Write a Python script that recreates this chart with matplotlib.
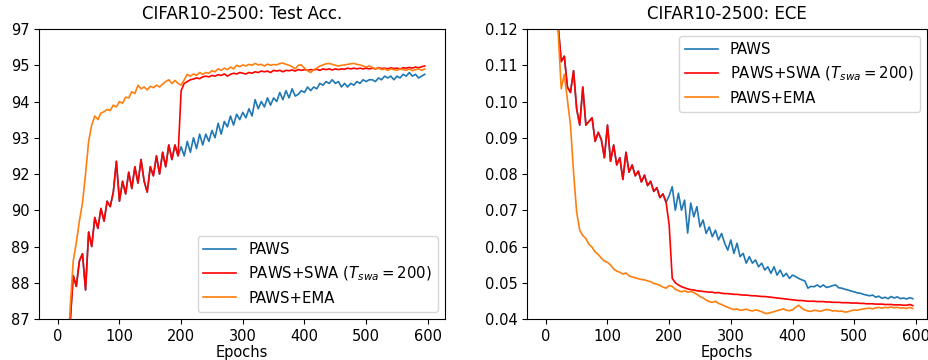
import matplotlib
matplotlib.use('Agg')
import matplotlib.pyplot as plt
import numpy as np

# --- data (every 5 epochs) ---
epochs = np.arange(0, 600, 5)

# Test accuracy (%)
acc_paws = [
    40, 70, 80, 85, 86.9, 88.2, 87.9, 88.6, 88.8, 87.8,
    89.4, 89.0, 89.8, 89.5, 90.1, 89.7, 90.5, 90.2, 91.0, 92.35,
    90.5, 91.6, 90.9, 92.05, 91.2, 92.2, 91.5, 92.4, 91.6, 91.0,
    92.2, 91.9, 92.5, 92.0, 92.6, 92.2, 92.8, 92.4, 92.8, 92.5,
    92.75, 92.5, 92.9, 92.6, 93.0, 92.7, 93.1, 92.8, 93.1, 92.9,
    93.2, 93.0, 93.4, 93.1, 93.45, 93.3, 93.6, 93.35, 93.65, 93.5,
    93.7, 93.55, 93.8, 93.6, 94.05, 93.8, 94.0, 93.85, 94.1, 93.9,
    94.1, 94.0, 94.25, 94.05, 94.3, 94.1, 94.35, 94.15, 94.2, 94.3,
    94.25, 94.4, 94.3, 94.4, 94.35, 94.5, 94.45, 94.55, 94.5, 94.6,
    94.5, 94.55, 94.4, 94.5, 94.4, 94.5, 94.45, 94.55, 94.5, 94.6,
    94.55, 94.6, 94.6, 94.55, 94.65, 94.6, 94.7, 94.65, 94.7, 94.6,
    94.7, 94.65, 94.75, 94.7, 94.8, 94.7, 94.75, 94.65, 94.7, 94.75,
]
acc_swa_after = [
    94.3, 94.5, 94.55, 94.6, 94.62, 94.65, 94.63, 94.68, 94.7, 94.68,
    94.72, 94.7, 94.74, 94.72, 94.76, 94.7, 94.75, 94.78, 94.76, 94.8,
    94.78, 94.76, 94.8, 94.78, 94.82, 94.8, 94.84, 94.82, 94.84, 94.8,
    94.86, 94.84, 94.86, 94.82, 94.86, 94.85, 94.87, 94.84, 94.88, 94.86,
    94.88, 94.86, 94.88, 94.87, 94.89, 94.86, 94.9, 94.88, 94.9, 94.87,
    94.9, 94.88, 94.9, 94.89, 94.92, 94.9, 94.92, 94.9, 94.92, 94.9,
    94.92, 94.9, 94.92, 94.9, 94.93, 94.91, 94.92, 94.9, 94.93, 94.91,
    94.92, 94.9, 94.93, 94.92, 94.94, 94.92, 94.95, 94.93, 94.96, 94.98,
]
acc_swa = acc_paws[:40] + acc_swa_after
acc_ema = [
    45, 72, 81, 85.5, 87.3, 88.6, 89.1, 89.7, 90.4, 92.0,
    92.9, 93.35, 93.6, 93.5, 93.68, 93.72, 93.78, 93.75, 93.9, 93.85,
    94.0, 93.95, 94.12, 94.1, 94.27, 94.22, 94.45, 94.35, 94.4, 94.32,
    94.42, 94.38, 94.45, 94.4, 94.48, 94.55, 94.6, 94.5, 94.58, 94.5,
    94.45, 94.6, 94.75, 94.7, 94.76, 94.72, 94.8, 94.75, 94.8, 94.78,
    94.85, 94.82, 94.9, 94.86, 94.92, 94.88, 94.95, 94.9, 95.0, 94.96,
    95.02, 94.98, 95.05, 95.0, 95.1, 95.02, 95.05, 94.98, 95.06, 95.0,
    95.04, 95.02, 95.1, 95.12, 95.05, 95.0, 94.96, 94.9, 95.0, 95.02,
    94.92, 94.85, 94.8, 94.88, 94.92, 94.98, 95.02, 95.08, 95.1, 95.05,
    95.0, 94.98, 95.0, 95.02, 95.05, 95.08, 95.1, 95.05, 95.02, 94.98,
    94.95, 94.98, 94.94, 94.9, 94.92, 94.88, 94.9, 94.86, 94.9, 94.88,
    94.86, 94.9, 94.88, 94.86, 94.9, 94.85, 94.88, 94.9, 94.86, 94.9,
]

# ECE
ece_paws = [
    0.20, 0.17, 0.15, 0.13, 0.121, 0.111, 0.1125, 0.104, 0.1025, 0.1085,
    0.098, 0.0935, 0.104, 0.0935, 0.0945, 0.0955, 0.089, 0.0915, 0.0895, 0.0845,
    0.0935, 0.0835, 0.088, 0.0825, 0.0845, 0.0785, 0.086, 0.0805, 0.0825, 0.0795,
    0.0808, 0.0778, 0.0797, 0.0768, 0.078, 0.0752, 0.0762, 0.0735, 0.0745, 0.0722,
    0.074, 0.0765, 0.070, 0.0747, 0.070, 0.0728, 0.0637, 0.072, 0.0682, 0.071,
    0.0654, 0.0673, 0.0636, 0.0654, 0.0627, 0.0645, 0.0618, 0.0636, 0.0609, 0.059,
    0.0618, 0.0581, 0.0609, 0.0572, 0.0581, 0.0554, 0.0572, 0.0554, 0.0563, 0.0544,
    0.0554, 0.0535, 0.0544, 0.0526, 0.0544, 0.0521, 0.0535, 0.0517, 0.0526, 0.0512,
    0.0521, 0.0517, 0.0512, 0.0508, 0.0505, 0.0485, 0.049, 0.0489, 0.0494, 0.0488,
    0.0494, 0.0487, 0.0489, 0.0492, 0.0494, 0.0486, 0.0485, 0.0482, 0.048, 0.0477,
    0.0475, 0.0472, 0.0471, 0.0468, 0.0466, 0.0464, 0.0466, 0.046, 0.0463, 0.0457,
    0.046, 0.0456, 0.0462, 0.0458, 0.0461, 0.0456, 0.0458, 0.0455, 0.0459, 0.0456,
]
ece_swa_after = [
    0.066, 0.0512, 0.0500, 0.0494, 0.0489, 0.0486, 0.0483, 0.0481, 0.0480, 0.0478,
    0.0477, 0.0476, 0.0475, 0.0474, 0.0474, 0.0472, 0.0473, 0.0471, 0.0470, 0.0470,
    0.0469, 0.0468, 0.0468, 0.0467, 0.0466, 0.0466, 0.0465, 0.0464, 0.0464, 0.0463,
    0.0462, 0.0462, 0.0461, 0.0460, 0.0459, 0.0458, 0.0457, 0.0456, 0.0455, 0.0454,
    0.0453, 0.0452, 0.0451, 0.0451, 0.0450, 0.0449, 0.0449, 0.0449, 0.0448, 0.0448,
    0.0448, 0.0447, 0.0447, 0.0446, 0.0446, 0.0446, 0.0445, 0.0445, 0.0445, 0.0444,
    0.0444, 0.0444, 0.0443, 0.0443, 0.0442, 0.0442, 0.0442, 0.0441, 0.0441, 0.0441,
    0.0440, 0.0440, 0.0440, 0.0439, 0.0439, 0.0439, 0.0438, 0.0438, 0.0440, 0.0437,
]
ece_swa = ece_paws[:40] + ece_swa_after
ece_ema = [
    0.20, 0.17, 0.145, 0.128, 0.1193, 0.1035, 0.1075, 0.1005, 0.0935, 0.0805,
    0.0695, 0.0645, 0.063, 0.0622, 0.0606, 0.0598, 0.0585, 0.0578, 0.0568, 0.056,
    0.0556, 0.0549, 0.0538, 0.0532, 0.0529, 0.0524, 0.0527, 0.0519, 0.0516, 0.0514,
    0.0511, 0.0509, 0.0508, 0.0505, 0.0503, 0.0498, 0.0496, 0.0493, 0.0488, 0.0485,
    0.0492, 0.0490, 0.0482, 0.0478, 0.0475, 0.0478, 0.0474, 0.0476, 0.0473, 0.0468,
    0.0462, 0.0458, 0.0452, 0.0448, 0.0446, 0.0449, 0.0443, 0.0440, 0.0436, 0.0432,
    0.0429, 0.0426, 0.0428, 0.0424, 0.0425, 0.0427, 0.0424, 0.0422, 0.0425, 0.0423,
    0.0420, 0.0416, 0.0415, 0.0418, 0.0420, 0.0423, 0.0425, 0.0428, 0.0424, 0.0423,
    0.0425, 0.0432, 0.0438, 0.0430, 0.0425, 0.0422, 0.0421, 0.0424, 0.0423, 0.0421,
    0.0424, 0.0426, 0.0425, 0.0422, 0.0423, 0.0421, 0.0422, 0.0419, 0.0420, 0.0423,
    0.0425, 0.0424, 0.0426, 0.0428, 0.0429, 0.0430, 0.0428, 0.0431, 0.0432, 0.0430,
    0.0432, 0.0431, 0.0433, 0.0431, 0.0432, 0.0430, 0.0431, 0.0429, 0.0432, 0.0429,
]

acc_ticks = [87, 88, 89, 90, 92, 93, 94, 95, 97]
ece_ticks = [0.04, 0.05, 0.06, 0.07, 0.08, 0.09, 0.10, 0.11, 0.12]
labels = ['PAWS', r'PAWS+SWA ($T_{swa}=200$)', 'PAWS+EMA']
colors = ['#1f77b4', 'red', '#ff7f0e']

# accuracy axis has evenly spaced (uneven-valued) ticks -> piecewise-linear scale
_vals = np.array([0] + acc_ticks + [200], dtype=float)
_pos = np.concatenate([[-87], np.arange(len(acc_ticks)), [len(acc_ticks) - 1 + 103 / 2]])


def fwd(v):
    return np.interp(v, _vals, _pos)


def inv(p):
    return np.interp(p, _pos, _vals)


fig = plt.figure(figsize=(9.29, 3.6), dpi=100)
ax1 = fig.add_axes([0.0423, 0.1139, 0.4368, 0.8055])
ax2 = fig.add_axes([0.5676, 0.1139, 0.4302, 0.8055])

lw = 1.2
ax1.set_yscale('function', functions=(fwd, inv))
for ys, lab, c in zip([acc_paws, acc_swa, acc_ema], labels, colors):
    ax1.plot(epochs, ys, color=c, lw=lw, label=lab)
ax1.set_ylim(87, 97)
ax1.set_yticks(acc_ticks)
ax1.set_yticklabels([str(t) for t in acc_ticks])
ax1.yaxis.set_minor_locator(matplotlib.ticker.NullLocator())
ax1.set_xlim(-30, 628)
ax1.set_title('CIFAR10-2500: Test Acc.', fontsize=12, pad=7)
ax1.legend(loc='lower right', fontsize=10.7, handlelength=2.2)

for ys, lab, c in zip([ece_paws, ece_swa, ece_ema], labels, colors):
    ax2.plot(epochs, ys, color=c, lw=lw, label=lab)
ax2.set_ylim(0.04, 0.12)
ax2.set_yticks(ece_ticks)
ax2.set_yticklabels(['%.2f' % t for t in ece_ticks])
ax2.set_xlim(-30, 618)
ax2.set_title('CIFAR10-2500: ECE', fontsize=12, pad=7)
ax2.legend(loc='upper right', fontsize=10.7, handlelength=2.2)

for ax in (ax1, ax2):
    ax.set_xticks(range(0, 601, 100))
    ax.set_xlabel('Epochs', fontsize=10.5, labelpad=1)
    ax.tick_params(labelsize=10.5)

fig.savefig('out.png', dpi=100)
